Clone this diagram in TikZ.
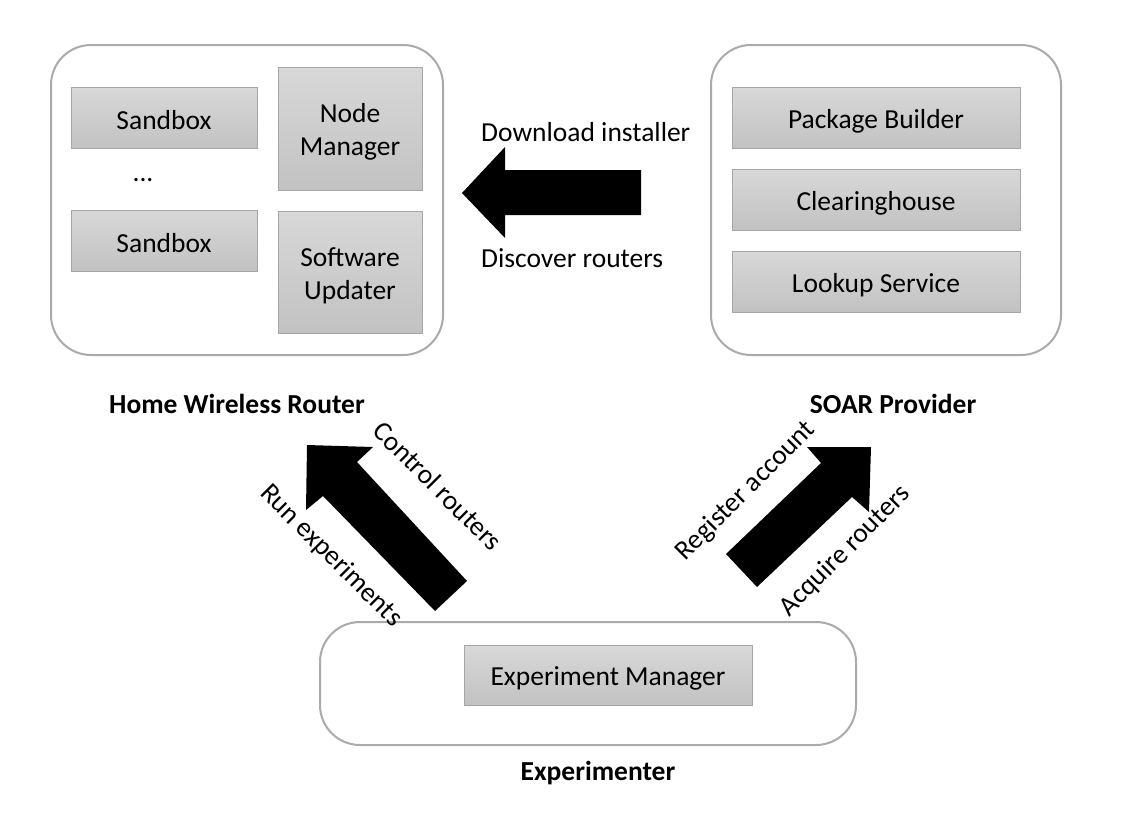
\documentclass[tikz,border=0pt]{standalone}
\usepackage{fontspec}
\setmainfont{Carlito}
\begin{document}
\begin{tikzpicture}[x=1pt,y=-1pt,
  outer/.style={draw={rgb,255:red,170;green,170;blue,170},line width=2pt,fill=white,rounded corners=40pt},
  inner/.style={draw={rgb,255:red,166;green,166;blue,166},line width=1pt,top color={rgb,255:red,216;green,216;blue,216},bottom color={rgb,255:red,194;green,194;blue,194},inner sep=0pt},
  boxtxt/.style={align=center,inner sep=0pt,font=\fontsize{27.5}{33}\selectfont},
  lbl/.style={font=\fontsize{27.5}{30}\selectfont,inner sep=0pt},
  ttl/.style={font=\fontsize{27.5}{30}\selectfont\bfseries,inner sep=0pt},
  blk/.style={fill=black}]
\useasboundingbox (0,0) rectangle (1142,836);
% outer boxes
\draw[outer] (51,45) rectangle (443,355);
\draw[outer] (711,45) rectangle (1061,355);
\draw[outer] (320,622) rectangle (856,745);
% inner boxes left
\node[inner,minimum width=186pt,minimum height=61pt] (sb1) at (164,117.5) {};
\node[boxtxt] (sb1t) at ([yshift=-2.5pt]sb1) {Sandbox};
\node[inner,minimum width=186pt,minimum height=61pt] (sb2) at (164,240.5) {};
\node[boxtxt] (sb2t) at ([yshift=-2.5pt]sb2) {Sandbox};
\node[lbl] (dots) at (143,180) {...};
\node[inner,minimum width=144pt,minimum height=123pt] (nm) at (350,128.5) {};
\node[boxtxt] (nmt) at ([yshift=-3pt]nm) {Node\\Manager};
\node[inner,minimum width=144pt,minimum height=122pt] (su) at (350,272) {};
\node[boxtxt] (sut) at ([yshift=-4pt]su) {Software\\Updater};
% inner boxes right
\node[inner,minimum width=288pt,minimum height=61pt] (pb) at (876,117.5) {};
\node[boxtxt] (pbt) at ([yshift=-3.5pt]pb) {Package Builder};
\node[inner,minimum width=288pt,minimum height=61pt] (ch) at (876,199.5) {};
\node[boxtxt] (cht) at ([yshift=-3.5pt]ch) {Clearinghouse};
\node[inner,minimum width=288pt,minimum height=61pt] (ls) at (876,281.5) {};
\node[boxtxt] (lst) at ([yshift=-3.5pt]ls) {Lookup Service};
% bottom
\node[inner,minimum width=288pt,minimum height=60pt] (em) at (608,675) {};
\node[boxtxt] (emt) at ([yshift=-3pt]em) {Experiment Manager};
% titles
\node[ttl] (t1) at (237,403.5) {Home Wireless Router};
\node[ttl] (t2) at (893,403.5) {SOAR Provider};
\node[ttl] (t3) at (598,772.5) {Experimenter};
% arrows
\fill[blk] (462,193) -- (505,147) -- (505,170) -- (641,170) -- (641,215) -- (505,215) -- (505,238) -- cycle;
\fill[blk] (307,445) -- (373,447) -- (357,462) -- (467,581) -- (435,611) -- (323,496) -- (306,510) -- cycle;
\fill[blk] (871,447) -- (807,447) -- (821,463) -- (726,554) -- (757,587) -- (852,497) -- (869,512) -- cycle;
% arrow labels
\node[lbl,anchor=west] (dl) at (481,132.5) {Download installer};
\node[lbl,anchor=west] (dr) at (481,258.5) {Discover routers};
\node[lbl,rotate=-45] (cr) at (438,486) {Control routers};
\node[lbl,rotate=-45] (re) at (331,556) {Run experiments};
\node[lbl,rotate=45] (ra) at (746,491) {Register account};
\node[lbl,rotate=45] (ar) at (845,551) {Acquire routers};
\end{tikzpicture}
\end{document}
